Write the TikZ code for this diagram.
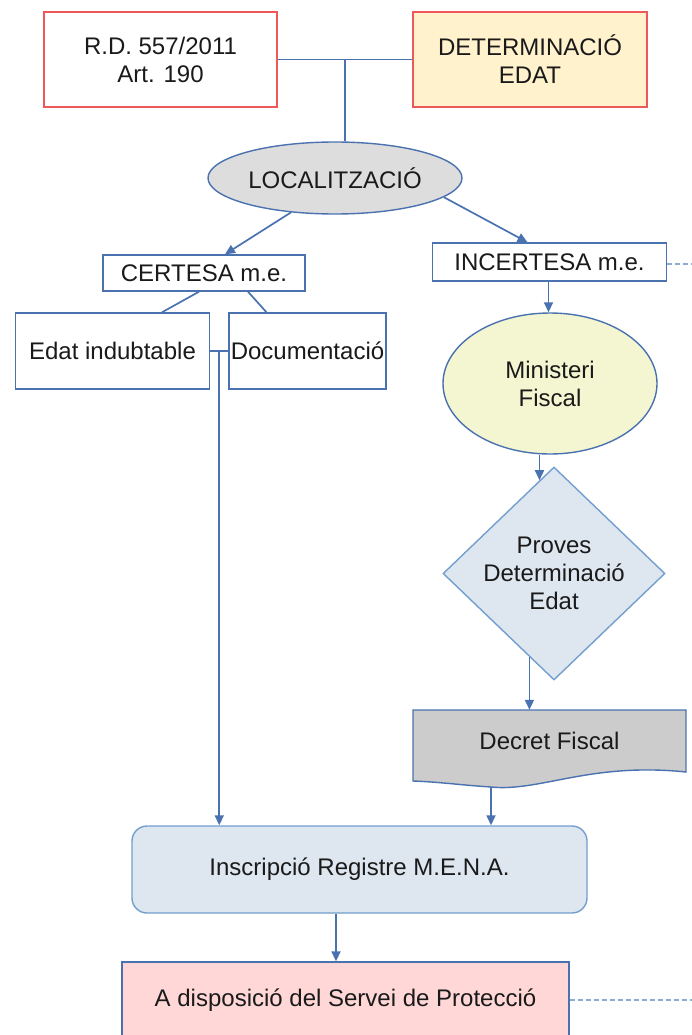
\documentclass[tikz,border=0pt]{standalone}
\usepackage{fontspec}
\setmainfont{Liberation Sans}
\usetikzlibrary{shapes.geometric,arrows.meta,calc}

\definecolor{linkblue}{RGB}{74,114,176}
\definecolor{paleblue}{RGB}{114,159,207}
\definecolor{dashblue}{RGB}{143,170,210}
\definecolor{boxred}{RGB}{238,88,88}
\definecolor{edatyellow}{RGB}{255,242,204}
\definecolor{locgrey}{RGB}{221,221,221}
\definecolor{fiscalyellow}{RGB}{244,246,210}
\definecolor{provesblue}{RGB}{222,230,239}
\definecolor{decretgrey}{RGB}{204,204,204}
\definecolor{serveipink}{RGB}{255,215,215}
\definecolor{inkgrey}{RGB}{26,26,26}

\tikzstyle{base} = [draw=linkblue, line width=1.4pt, inner sep=0pt, align=center, text=inkgrey]
\tikzstyle{redbox} = [base, rectangle, draw=boxred, fill=white]
\tikzstyle{plainbox} = [base, rectangle, fill=white]
\tikzstyle{oval} = [base, ellipse]
\tikzstyle{decision} = [base, diamond, draw=paleblue, fill=provesblue, aspect=1.04]
\tikzstyle{docshape} = [draw=linkblue, line width=1.4pt, fill=decretgrey]
\tikzstyle{roundbox} = [base, rectangle, rounded corners=15pt, draw=paleblue, fill=provesblue]
\tikzstyle{line} = [draw=linkblue, line width=1.7pt]
\tikzstyle{arrow} = [line, ->, >={Triangle[length=10pt, width=9pt]}]
\tikzstyle{dashline} = [draw=dashblue, line width=1.7pt, dash pattern=on 5pt off 3pt]

\begin{document}
\begin{tikzpicture}[x=1pt, y=-1pt, font=\fontsize{24}{28}\selectfont]
    \useasboundingbox (0,0) rectangle (692,1035);
    \clip (0,0) rectangle (692,1035);

        \node (rdbox) [redbox, minimum width=233pt, minimum height=95pt] at (160.5,59.5) {R.D. 557/2011\\Art. 190};
        \node (determ) [redbox, fill=edatyellow, minimum width=234pt, minimum height=95pt, right of=rdbox, node distance=369.5pt] {DETERMINACIÓ\\EDAT};
        \node (local) [oval, fill=locgrey, minimum width=254pt, minimum height=72pt] at (335,178) {LOCALITZACIÓ};
        \node (certesa) [plainbox, minimum width=202pt, minimum height=36pt] at (204,273) {CERTESA m.e.};
        \node (incertesa) [plainbox, minimum width=234pt, minimum height=38pt] at (549.5,262) {INCERTESA m.e.};
        \node (indubt) [plainbox, minimum width=194pt, minimum height=76pt] at (112.5,351) {Edat indubtable};
        \node (docum) [plainbox, minimum width=157pt, minimum height=76pt, right of=indubt, node distance=195pt] {Documentació};
        \node (fiscal) [oval, fill=fiscalyellow, minimum width=214pt, minimum height=141pt] at (550,383.5) {Ministeri\\Fiscal};
        \node (proves) [decision, minimum width=222pt, minimum height=213pt] at (554,573.5) {Proves\\Determinació\\Edat};

        \draw [docshape] (413,710) -- (686,710) -- (686,772) .. controls (590,762) and (540,792) .. (491,787) .. controls (460,785) and (440,782) .. (413,781) -- cycle;
        \node (decret) [inner sep=0pt, text=inkgrey, minimum width=273pt, minimum height=62pt] at (549.5,741) {Decret Fiscal};

        \node (inscrip) [roundbox, minimum width=455pt, minimum height=87pt] at (359.5,869.5) {Inscripció Registre M.E.N.A.};
        \node (dispos) [plainbox, fill=serveipink, minimum width=447pt, minimum height=76pt] at (345.5,1000) {A disposició del Servei de Protecció};

        \coordinate (topjoin) at (345,59.5);
        \coordinate (leftjoin) at ($(indubt.east)!0.5!(docum.west)$);
        \coordinate (provesin) at ($(proves.north)!0.13!(proves.west)$);
        \coordinate (provesout) at ($(proves.south)!0.22!(proves.west)$);
        \coordinate (decretout) at (491,787);
        \coordinate (offtop) at (700,264);
        \coordinate (offbottom) at (700,1000);

        \draw [line] (rdbox) -- (determ);
        \draw [line] (topjoin) -- (topjoin |- local.north);
        \draw [arrow] (local.218) -- ([xshift=21pt]certesa.north);
        \draw [arrow] (local.350) -- ([xshift=-22pt]incertesa.north);
        \draw [dashline] ([yshift=-2pt]incertesa.east) -- (offtop);
        \draw [line] ([xshift=-5pt]certesa.south) -- ([xshift=49.5pt]indubt.north);
        \draw [line] ([xshift=44pt]certesa.south) -- ([xshift=-41pt]docum.north);
        \draw [line] (indubt) -- (docum);
        \draw [arrow] (leftjoin) -- (leftjoin |- inscrip.north);
        \draw [arrow] ([xshift=-1pt]incertesa.south) -- ([xshift=-1pt]incertesa.south |- fiscal.north);
        \draw [arrow] (provesin |- fiscal.south) -- (provesin);
        \draw [arrow] (provesout) -- (provesout |- decret.north);
        \draw [arrow] (decretout) -- (decretout |- inscrip.north);
        \draw [arrow] ([xshift=-23.5pt]inscrip.south) -- ([xshift=-23.5pt]inscrip.south |- dispos.north);
        \draw [dashline] (dispos.east) -- (offbottom);

\end{tikzpicture}
\end{document}
